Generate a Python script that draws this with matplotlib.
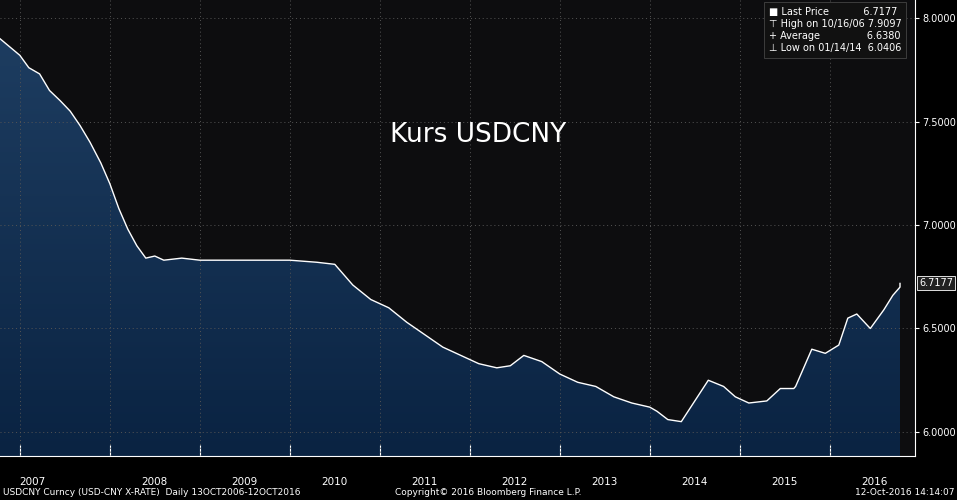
import matplotlib
matplotlib.use("Agg")
import matplotlib.pyplot as plt
import numpy as np
from matplotlib.patches import Polygon
from matplotlib.colors import LinearSegmentedColormap

# fractional years and USDCNY values
years = [2006.78, 2006.89, 2007.0, 2007.1, 2007.22, 2007.33, 2007.45, 2007.56, 2007.67, 2007.78,
         2007.9, 2008.0, 2008.1, 2008.2, 2008.3, 2008.4, 2008.5, 2008.6, 2008.8, 2009.0,
         2009.3, 2009.6, 2010.0, 2010.3, 2010.5, 2010.7, 2010.9, 2011.1, 2011.3, 2011.5,
         2011.7, 2011.9, 2012.1, 2012.3, 2012.45, 2012.6, 2012.8, 2013.0, 2013.2, 2013.4,
         2013.6, 2013.8, 2014.0, 2014.08, 2014.2, 2014.35, 2014.5, 2014.65, 2014.82, 2014.95,
         2015.1, 2015.3, 2015.45, 2015.6, 2015.62, 2015.8, 2015.95, 2016.1, 2016.2, 2016.3,
         2016.45, 2016.6, 2016.7, 2016.78]
values = [7.90, 7.86, 7.82, 7.76, 7.73, 7.65, 7.60, 7.55, 7.48, 7.40,
          7.30, 7.20, 7.08, 6.98, 6.90, 6.84, 6.85, 6.83, 6.84, 6.83,
          6.83, 6.83, 6.83, 6.82, 6.81, 6.71, 6.64, 6.60, 6.53, 6.47,
          6.41, 6.37, 6.33, 6.31, 6.32, 6.37, 6.34, 6.28, 6.24, 6.22,
          6.17, 6.14, 6.12, 6.10, 6.06, 6.05, 6.15, 6.25, 6.22, 6.17,
          6.14, 6.15, 6.21, 6.21, 6.22, 6.40, 6.38, 6.42, 6.55, 6.57,
          6.50, 6.59, 6.66, 6.70]
last_price = 6.7177
year_labels = [2007, 2008, 2009, 2010, 2011, 2012, 2013, 2014, 2015, 2016]
yticks = [6.0, 6.5, 7.0, 7.5, 8.0]

x = np.array(years + [2016.78])
y = np.array(values + [last_price])

fig = plt.figure(figsize=(9.57, 5.0), dpi=100, facecolor="black")
ax = fig.add_axes([0, 0.088, 915/957, 0.912])
ax.set_facecolor("#0d0d0f")
x0, x1 = 2006.78, 2006.78 + 915/90
ymin, ymax = 5.884, 8.087
ax.set_xlim(x0, x1)
ax.set_ylim(ymin, ymax)

grad = np.linspace(0, 1, 256).reshape(-1, 1)
cmap = LinearSegmentedColormap.from_list("g", ["#0a2342", "#1f3f63"])
im = ax.imshow(grad, extent=[x0, x1, ymin, ymax], origin="lower", cmap=cmap, aspect="auto", zorder=1)
poly = Polygon(np.column_stack([np.r_[x[0], x, x[-1]], np.r_[ymin, y, ymin]]), closed=True,
               facecolor="none", edgecolor="none")
ax.add_patch(poly)
im.set_clip_path(poly)
ax.plot(x, y, color="white", lw=1.0, zorder=3)

for t in yticks:
    ax.axhline(t, color="#555555", lw=0.7, ls=(0, (1, 3)), zorder=2)
for yr in year_labels:
    ax.axvline(yr, color="#555555", lw=0.7, ls=(0, (1, 3)), zorder=2)

ax.yaxis.tick_right()
ax.set_yticks(yticks)
ax.set_yticklabels([f"{t:.4f}" for t in yticks], color="white", fontsize=7)
ax.tick_params(axis="y", colors="white", length=3, pad=2, labelsize=7)
ax.set_xticks(year_labels)
ax.set_xticklabels([])
ax.tick_params(axis="x", colors="white", length=8, direction="in")
for yr in year_labels:
    pos = (x0 + 2008) / 2 - 0.25 if yr == 2007 else yr + 0.5
    ax.text(pos, -0.045, str(yr), transform=ax.get_xaxis_transform(), color="white",
            fontsize=7.5, ha="center", va="top")
for s in ax.spines.values():
    s.set_visible(False)
ax.spines["right"].set_visible(True)
ax.spines["right"].set_color("white")
ax.spines["bottom"].set_visible(True)
ax.spines["bottom"].set_color("white")

ax.text(0.5, 0.73, "Kurs USDCNY", transform=fig.transFigure, color="white", fontsize=19,
        ha="center", va="center")
ax.annotate(f"{last_price:.4f}", xy=(1.0, last_price), xycoords=("axes fraction", "data"),
            xytext=(3, 0), textcoords="offset points", color="white", fontsize=7, va="center",
            bbox=dict(boxstyle="square,pad=0.2", fc="#222222", ec="white", lw=0.6))

legend_text = ("\u25a0 Last Price           6.7177\n"
               "\u22a4 High on 10/16/06 7.9097\n"
               "+ Average               6.6380\n"
               "\u22a5 Low on 01/14/14  6.0406")
ax.text(0.84, 0.985, legend_text, transform=ax.transAxes, color="white", fontsize=7,
        va="top", ha="left", linespacing=1.25,
        bbox=dict(boxstyle="square,pad=0.5", fc="#111111", ec="#444444", lw=0.6))

fig.text(0.003, 0.01, "USDCNY Curncy (USD-CNY X-RATE)  Daily 13OCT2006-12OCT2016", color="white", fontsize=6.5)
fig.text(0.51, 0.01, "Copyright\u00a9 2016 Bloomberg Finance L.P.", color="white", fontsize=6.5, ha="center")
fig.text(0.997, 0.01, "12-Oct-2016 14:14:07", color="white", fontsize=6.5, ha="right")

fig.savefig("out.png", dpi=100, facecolor="black")
